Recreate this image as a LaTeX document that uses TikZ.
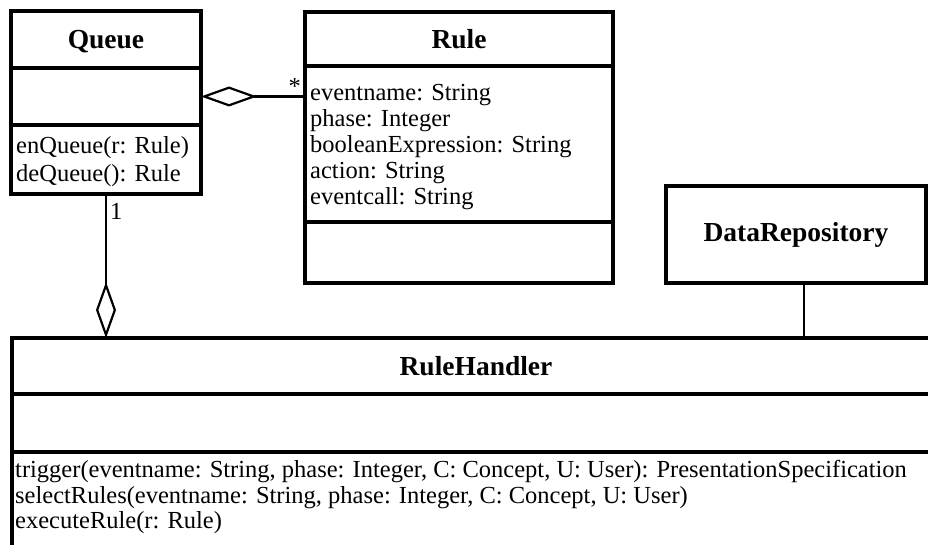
\documentclass[tikz,border=0pt]{standalone}
\usepackage{fontspec}
\setmainfont{Liberation Serif}
\usetikzlibrary{arrows.meta,calc}
\begin{document}
\begin{tikzpicture}[x=1pt,y=-1pt,
  compart/.style={draw,line width=3.2pt,rectangle,anchor=north west,
    inner sep=0pt,outer sep=0pt},
  classname/.style={font=\bfseries\fontsize{27.5}{30}\selectfont},
  member/.style={anchor=base west,inner sep=0pt,
    font=\fontsize{24.5}{26}\selectfont},
  conn/.style={line width=2.2pt},
  agg/.style={conn,{Diamond[open,length=56pt,width=20pt]}-},
  mult/.style={inner sep=0pt,font=\fontsize{24.5}{26}\selectfont}]

\useasboundingbox (0,0) rectangle (928,545);
\fill[white] (0,0) rectangle (928,545);
\clip (0,0) rectangle (928,545);

% Queue
\node[compart,classname,minimum width=190pt,minimum height=57pt,
  text depth=0pt] (qname) at (11,11) {Queue};
\node[compart,minimum width=190pt,minimum height=57pt] (qattr) at (11,68) {};
\node[compart,minimum width=190pt,minimum height=69pt] (qops) at (11,125) {};
\node[member] (qop1) at (16,154) {enQueue(r: Rule)};
\node[member] (qop2) at (16,182) {deQueue(): Rule};

% Rule
\node[compart,classname,minimum width=308pt,minimum height=54pt] (rname) at (305,12) {Rule};
\node[compart,minimum width=308pt,minimum height=156pt] (rattr) at (305,66) {};
\node[compart,minimum width=308pt,minimum height=61pt] (rops) at (305,222) {};
\node[member] (ra1) at (310,101) {eventname: String};
\node[member] (ra2) at (310,127) {phase: Integer};
\node[member] (ra3) at (310,153) {booleanExpression: String};
\node[member] (ra4) at (310,179) {action: String};
\node[member] (ra5) at (310,205) {eventcall: String};

% DataRepository
\node[compart,classname,minimum width=260pt,minimum height=97pt] (dr) at (666,186) {DataRepository};

% RuleHandler
\node[compart,classname,minimum width=928pt,minimum height=56pt] (hname) at (12,338) {RuleHandler};
\node[compart,minimum width=928pt,minimum height=58pt] (hattr) at (12,394) {};
\node[compart,minimum width=928pt,minimum height=110pt] (hops) at (12,452) {};
\node[member] (hop1) at (15,477) {trigger(eventname: String, phase: Integer, C: Concept, U: User): PresentationSpecification};
\node[member] (hop2) at (15,503) {selectRules(eventname: String, phase: Integer, C: Concept, U: User)};
\node[member] (hop3) at (15,528) {executeRule(r: Rule)};

% Associations
\draw[agg] (qattr.east) -- (qattr.east -| rname.west)
  node[mult,pos=1,anchor=south east,xshift=-3pt,yshift=1pt] {*};
\draw[agg] (qops.south |- hname.north) -- (qops.south)
  node[mult,pos=1,anchor=north west,xshift=3pt,yshift=-8pt] {1};
\draw[conn] ([xshift=8pt]dr.south) -- ([xshift=8pt]dr.south |- hname.north);
\end{tikzpicture}
\end{document}
